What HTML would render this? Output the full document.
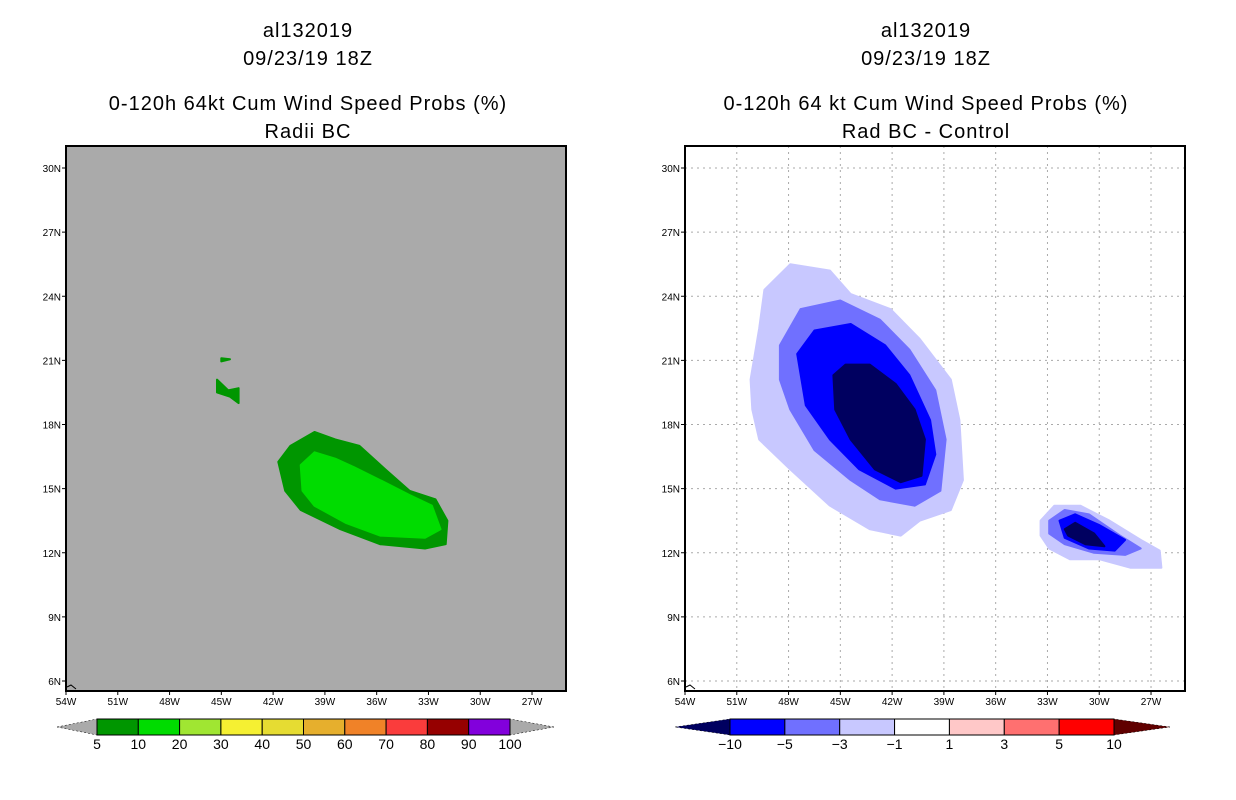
<!DOCTYPE html>
<html><head><meta charset="utf-8"><style>
body{margin:0;background:#fff;width:1236px;height:800px;overflow:hidden}
svg{display:block}
text{font-family:"Liberation Sans",sans-serif}
</style></head><body>
<svg id="s" width="1236" height="800">
<g font-size="20" text-anchor="middle" letter-spacing="1">
<text x="308" y="37">al132019</text><text x="308" y="65">09/23/19 18Z</text>
<text x="308" y="110">0-120h 64kt Cum Wind Speed Probs (%)</text><text x="308" y="138">Radii BC</text></g>
<g font-size="20" text-anchor="middle" letter-spacing="1">
<text x="926" y="37">al132019</text><text x="926" y="65">09/23/19 18Z</text>
<text x="926" y="110">0-120h 64 kt Cum Wind Speed Probs (%)</text><text x="926" y="138">Rad BC - Control</text></g>
<g id="L"></g>
<g id="R"></g>
<g id="CB"></g>
</svg>
<script>
const lonTicks=[-54,-51,-48,-45,-42,-39,-36,-33,-30,-27];
const latTicks=[6,9,12,15,18,21,24,27,30];
const leftLevels=['5','10','20','30','40','50','60','70','80','90','100'];
const leftColors=['#009600','#00dc00','#a0e632','#f5f032','#e6dc32','#e6af2d','#f08228','#fa3c3c','#960000','#8200dc'];
const rightLevels=['-10','-5','-3','-1','1','3','5','10'];
const rightColors=['#0000ff','#7070ff','#c8c8ff','#ffffff','#ffc8c8','#ff7070','#ff0000'];
const leftShapes=[
 {c:'#009600',p:[[-41.7,16.25],[-41.0,17.0],[-39.6,17.65],[-38.4,17.3],[-37.0,17.0],[-35.5,15.9],[-34.1,14.9],[-32.6,14.5],[-31.9,13.5],[-32.0,12.4],[-33.2,12.2],[-35.8,12.4],[-38.1,13.1],[-40.4,14.0],[-41.3,14.9]]},
 {c:'#00dc00',p:[[-40.4,16.1],[-39.6,16.7],[-38.4,16.4],[-37.3,16.0],[-35.8,15.4],[-34.1,14.7],[-32.8,14.2],[-32.3,13.1],[-33.2,12.7],[-35.8,12.8],[-37.8,13.4],[-39.6,14.2],[-40.3,14.9]]},
 {c:'#009600',p:[[-45.0,21.1],[-44.5,21.05],[-45.0,20.95]]},
 {c:'#009600',p:[[-45.25,20.1],[-44.6,19.6],[-44.0,19.7],[-44.0,19.0],[-44.5,19.3],[-45.25,19.5]]}
];
const rightShapes=[
 {c:'#c8c8ff',p:[[-50.2,20.1],[-49.7,22.5],[-49.4,24.3],[-47.9,25.5],[-45.6,25.2],[-44.4,24.1],[-42.1,23.4],[-40.4,22.0],[-38.6,20.1],[-38.1,18.2],[-37.9,15.4],[-38.6,14.0],[-40.4,13.5],[-41.5,12.8],[-43.3,13.1],[-45.6,14.2],[-47.9,15.9],[-49.7,17.3],[-50.1,18.7]]},
 {c:'#7070ff',p:[[-48.5,21.7],[-47.3,23.4],[-45.0,23.8],[-42.7,22.9],[-41.0,21.5],[-39.5,19.6],[-38.9,17.3],[-39.2,14.9],[-40.7,14.2],[-42.7,14.5],[-44.4,15.4],[-46.5,16.8],[-47.9,18.7],[-48.5,20.1]]},
 {c:'#0000ff',p:[[-47.5,21.3],[-46.5,22.4],[-44.4,22.7],[-42.4,21.7],[-41.0,20.3],[-39.8,18.2],[-39.5,16.6],[-40.1,15.2],[-41.8,15.0],[-43.9,15.9],[-45.6,17.3],[-47.0,18.9]]},
 {c:'#000060',p:[[-45.4,20.3],[-44.7,20.8],[-43.3,20.8],[-41.8,19.9],[-40.7,18.7],[-40.1,17.3],[-40.3,15.6],[-41.5,15.3],[-43.0,15.9],[-44.4,17.3],[-45.3,18.7]]},
 {c:'#c8c8ff',p:[[-33.4,13.5],[-32.6,14.2],[-31.1,14.2],[-29.4,13.5],[-27.6,12.6],[-26.5,12.1],[-26.4,11.3],[-28.2,11.3],[-30.0,11.7],[-31.7,11.7],[-32.9,12.2],[-33.4,12.8]]},
 {c:'#7070ff',p:[[-32.9,13.5],[-32.0,14.0],[-30.6,13.8],[-28.8,12.8],[-27.6,12.2],[-28.5,11.9],[-30.3,12.0],[-32.0,12.4],[-32.9,12.9]]},
 {c:'#0000ff',p:[[-32.3,13.5],[-31.4,13.8],[-30.0,13.3],[-28.5,12.6],[-29.1,12.1],[-30.6,12.2],[-32.0,12.7]]},
 {c:'#000060',p:[[-32.0,13.1],[-31.4,13.4],[-30.3,12.9],[-29.7,12.3],[-30.8,12.4],[-31.8,12.8]]}
];
const NS='http://www.w3.org/2000/svg';
function mk(t,a,par){const e=document.createElementNS(NS,t);for(const k in a)e.setAttribute(k,a[k]);par.appendChild(e);return e;}
function drawMap(g,x0,bg,shapes,grid){
 const W=500,H=545,y0=146;
 const xs=l=>x0+(l+54)*17.26, ys=l=>168+(30-l)*21.375;
 const r=mk('rect',{x:x0,y:y0,width:W,height:H,fill:bg},g);
 
 
 if(grid){
  lonTicks.forEach(l=>{const ln=mk('line',{x1:xs(l),x2:xs(l),y1:y0,y2:y0+H,stroke:'#aaa','stroke-dasharray':'2,4'},g);
   
   });
  latTicks.forEach(l=>{const ln=mk('line',{x1:x0,x2:x0+W,y1:ys(l),y2:ys(l),stroke:'#aaa','stroke-dasharray':'2,4'},g);
   
   });
 }
 shapes.forEach(s=>{const p=mk('polygon',{points:s.p.map(q=>xs(q[0]).toFixed(1)+','+ys(q[1]).toFixed(1)).join(' '),fill:s.c,'stroke':s.c,'stroke-width':2,'stroke-linejoin':'round'},g);
  
  });
 const fr=mk('rect',{x:x0,y:y0,width:W,height:H,fill:'none',stroke:'#000','stroke-width':2},g);
 
 
 mk('polyline',{points:`${x0+1},${y0+H-4} ${x0+5},${y0+H-6} ${x0+10},${y0+H-2}`,fill:'none',stroke:'#000','stroke-width':1},g);
 lonTicks.forEach(l=>{const x=xs(l);mk('line',{x1:x,x2:x,y1:y0+H,y2:y0+H+4,stroke:'#000'},g);
  const t=mk('text',{x:x,y:y0+H+14,'font-size':10,'text-anchor':'middle'},g);t.textContent=(-l)+'W';
  
  });
 latTicks.forEach(l=>{const y=ys(l);mk('line',{x1:x0-4,x2:x0,y1:y,y2:y,stroke:'#000'},g);
  const t=mk('text',{x:x0-5,y:y+4,'font-size':10,'text-anchor':'end'},g);t.textContent=l+'N';
  
  });
}
drawMap(document.getElementById('L'),66,'#aaaaaa',leftShapes,false);
drawMap(document.getElementById('R'),685,'#ffffff',rightShapes,true);
const cb=document.getElementById('CB');
function bar(x0,x1,tl,tr,colors,levels,lc,rc){
 const n=colors.length,w=(x1-x0)/n,y=719,h=16;
 mk('polygon',{points:`${tl},${y+h/2} ${x0},${y} ${x0},${y+h}`,fill:lc,stroke:'#000','stroke-width':0.5,'stroke-dasharray':'2,2'},cb);
 mk('polygon',{points:`${tr},${y+h/2} ${x1},${y} ${x1},${y+h}`,fill:rc,stroke:'#000','stroke-width':0.5,'stroke-dasharray':'2,2'},cb);
 colors.forEach((c,i)=>{const r=mk('rect',{x:x0+i*w,y:y,width:w,height:h,fill:c,stroke:'#000'},cb);
  
  });
 levels.forEach((v,i)=>{const t=mk('text',{x:x0+i*w,y:y+h+14,'font-size':14,'text-anchor':'middle'},cb);t.textContent=v.replace('-','\u2212');
  
  });
}
bar(97,510,57,554,leftColors,leftLevels,'#aaaaaa','#aaaaaa');
bar(730,1114,675,1170,rightColors,rightLevels,'#000060','#600000');
</script>
</body></html>
